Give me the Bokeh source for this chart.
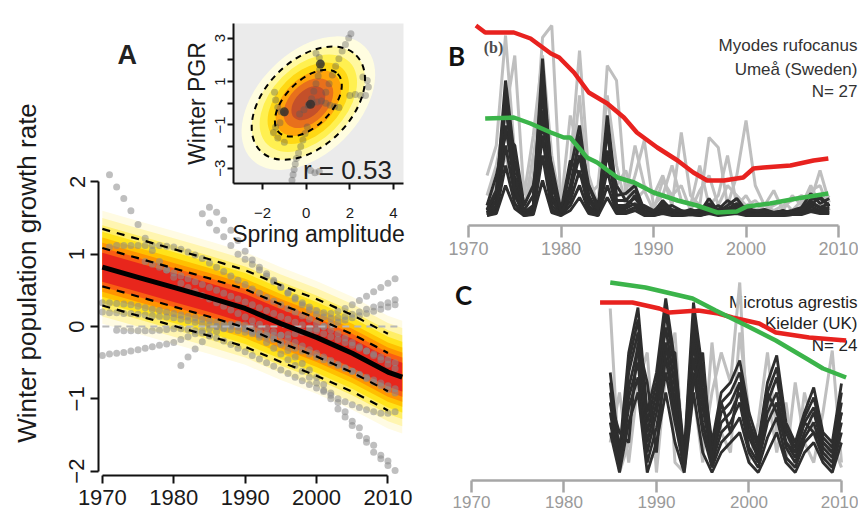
from bokeh.plotting import figure
from bokeh.models import Range1d, Label
from bokeh.layouts import column, row
from bokeh.embed import file_html
from bokeh.resources import INLINE

SANS = "Liberation Sans"

# ---------------- Panel A: main trend panel ----------------
A_X_TICKS = [1970, 1980, 1990, 2000, 2010]
A_Y_TICKS = [-2, -1, 0, 1, 2]
A_MEAN_YEARS = [1970, 1975, 1980, 1985, 1990, 1995, 2000, 2005, 2010, 2012]
A_MEAN = [0.82, 0.68, 0.54, 0.40, 0.25, 0.04, -0.15, -0.37, -0.63, -0.70]
A_DASH_OFFSETS = [-0.53, -0.265, 0.265, 0.53]
A_BAND_HALF = [0.78, 0.68, 0.58, 0.49, 0.41, 0.34, 0.27, 0.20]
A_BAND_COLORS = ["#fffbe3", "#fff5b0", "#ffee66", "#ffe31a", "#ffc000", "#ff9400", "#fa5e12", "#e8261c"]
A_ZERO_YEARS = [1970, 2012]
A_ZERO_VALUES = [0.0, 0.0]

A_DOTS_1_START = 1971
A_DOTS_1 = [2.10, 1.93, 1.77, 1.60, 1.41, 1.22, 1.05, 0.90, 0.78, 0.68,
            0.60, 0.54, 0.48, 0.43, 0.38, 0.33, 0.28, 0.23, 0.18, 0.13,
            0.08, 0.03, -0.02, -0.07, -0.12, -0.17, -0.22, -0.27, -0.32, -0.37,
            -0.42, -0.47, -0.52, -0.57, -0.62, -0.67, -0.72, -0.77, -0.82, -0.87, -0.92]
A_DOTS_2_START = 1971
A_DOTS_2 = [1.10, 1.12, 1.12, 1.12, 1.12, 1.12, 1.12, 1.12, 1.11, 1.10,
            1.07, 1.03, 0.99, 0.94, 0.88, 0.82, 0.76, 0.70, 0.64, 0.58,
            0.52, 0.46, 0.40, 0.35, 0.30, 0.25, 0.20, 0.15, 0.10, 0.05,
            0.00, -0.05, -0.10, -0.16, -0.22, -0.28, -0.34, -0.40, -0.46, -0.52, -0.58]
A_DOTS_3_START = 1985
A_DOTS_3 = [1.65, 1.58, 1.47, 1.33, 1.19, 1.04, 0.92, 0.82, 0.73, 0.64,
            0.55, 0.47, 0.40, 0.33, 0.27, 0.22, 0.19, 0.18, 0.21, 0.25,
            0.30, 0.36, 0.42, 0.48, 0.54, 0.60, 0.66]
A_DOTS_4_START = 1984
A_DOTS_4 = [1.56, 1.43, 1.33, 1.24, 1.12, 1.00, 0.93, 0.86, 0.78, 0.70,
            0.62, 0.54, 0.46, 0.38, 0.30, 0.23, 0.17, 0.13, 0.11, 0.12,
            0.14, 0.17, 0.20, 0.24, 0.27, 0.30, 0.33, 0.37]
A_DOTS_5_START = 1970
A_DOTS_5 = [-0.40, -0.38, -0.37, -0.36, -0.34, -0.32, -0.30, -0.28, -0.26, -0.24,
            -0.22, -0.18, -0.14, -0.10, -0.06, -0.03, 0.00, 0.02, 0.03, 0.03,
            -0.02, -0.08, -0.15, -0.22, -0.30, -0.38, -0.46, -0.54, -0.62, -0.70,
            -0.78, -0.88, -1.00, -1.14, -1.25, -1.37, -1.51, -1.60, -1.74, -1.83, -1.92, -1.99]
A_DOTS_6_START = 1981
A_DOTS_6 = [-0.54, -0.42, -0.31, -0.21, -0.13, -0.07, -0.03, 0.00, 0.02, 0.02,
            0.00, -0.04, -0.10, -0.17, -0.25, -0.33, -0.42, -0.51, -0.60, -0.70,
            -0.80, -0.92, -1.05, -1.18, -1.31, -1.40, -1.55, -1.64, -1.78, -1.86]
A_DOTS_7_START = 1970
A_DOTS_7 = [0.33, 0.33, 0.32, 0.31, 0.30, 0.28, 0.26, 0.24, 0.22, 0.20,
            0.18, 0.16, 0.14, 0.12, 0.10, 0.08, 0.06, 0.04, 0.02, 0.00,
            -0.03, -0.06, -0.10, -0.14, -0.18, -0.22, -0.26, -0.30, -0.34, -0.38,
            -0.42, -0.46, -0.50, -0.54, -0.58, -0.62, -0.66, -0.70, -0.74, -0.78, -0.82, -0.86]
A_DOTS_8_START = 1972
A_DOTS_8 = [-0.05, -0.06, -0.06, -0.06, -0.06, -0.06, -0.05, -0.04, -0.03, -0.03,
            -0.04, -0.06, -0.09, -0.12, -0.16, -0.20, -0.25, -0.30, -0.35, -0.40,
            -0.45, -0.50, -0.55, -0.60, -0.65, -0.70, -0.75, -0.80, -0.85, -0.90,
            -0.95, -1.00, -1.04, -1.08, -1.12, -1.15, -1.18, -1.20, -1.20, -1.18]
A_DOTS_9_START = 1970
A_DOTS_9 = [0.20, 0.19, 0.19, 0.18, 0.18, 0.17, 0.16, 0.15, 0.14, 0.13,
            0.12, 0.10, 0.08, 0.06, 0.04, 0.02, 0.00, -0.02, -0.04, -0.06,
            -0.08, -0.10, -0.11, -0.12, -0.12, -0.12, -0.11, -0.10, -0.08, -0.06,
            -0.03, 0.00, 0.03, 0.06, 0.09, 0.12, 0.15, 0.18, 0.21, 0.24, 0.27, 0.30]
A_DOTS_10_START = 1976
A_DOTS_10 = [0.90, 0.86, 0.82, 0.78, 0.74, 0.70, 0.66, 0.62, 0.58, 0.54,
             0.50, 0.46, 0.42, 0.38, 0.34, 0.30, 0.26, 0.22, 0.18, 0.14,
             0.10, 0.06, 0.02, -0.02, -0.06, -0.10, -0.14, -0.18, -0.22, -0.26,
             -0.30, -0.34, -0.38, -0.42, -0.46, -0.50]

# ---------------- Panel A inset ----------------
IN_X_TICKS = [-2, 0, 2, 4]
IN_Y_TICKS = [-3, -2, -1, 0, 1, 2, 3]
IN_CENTER_X = [0.1]
IN_CENTER_Y = [0.0]
IN_OUTER_W, IN_OUTER_H = 6.2, 3.95
IN_INNER_W, IN_INNER_H = 3.8, 2.1
IN_ANGLE = 0.785
IN_LEVELS = [1.18, 1.0, 0.86, 0.72, 0.58, 0.44, 0.30]
IN_COLORS = ["#fffde0", "#fff8a0", "#fff050", "#ffd814", "#ffa40a", "#e8701c", "#c4502a"]
IN_T1_X = [-0.65, -0.6, -0.55, -0.5, -0.45, -0.35, -0.25, -0.15, -0.05, 0.05]
IN_T1_Y = [-3.55, -3.3, -3.05, -2.8, -2.55, -2.3, -2.0, -1.7, -1.4, -1.1]
IN_T2_X = [0.9, 1.05, 1.2, 1.35, 1.5, 1.65, 1.8, 1.95, 2.05]
IN_T2_Y = [0.5, 0.9, 1.3, 1.7, 2.05, 2.4, 2.7, 3.0, 3.2]
IN_T3_X = [2.0, 2.25, 2.5, 2.72, 2.85, 2.8, 2.6]
IN_T3_Y = [0.35, 0.4, 0.35, 0.35, 0.75, 1.05, 1.2]
IN_T4_X = [-1.45, -1.4, -1.3, -1.15, -1.0, -1.2, -1.4, -1.5, -1.3, -1.0]
IN_T4_Y = [0.5, 0.15, -0.2, -0.4, -0.45, -0.9, -1.1, -1.35, -1.6, -1.8]
IN_T5_X = [0.1, 0.25, 0.35, 0.45, 0.55, 0.62, 0.68, 0.6, 0.45]
IN_T5_Y = [-0.1, 0.2, 0.55, 0.9, 1.25, 1.55, 1.85, 2.1, 2.3]
IN_T6_X = [-0.3, -0.1, 0.1, 0.3, 0.5, 0.7, 0.9, 1.1, 1.3, 1.5]
IN_T6_Y = [-0.5, -0.3, -0.1, 0.0, 0.05, 0.1, 0.0, -0.1, -0.15, -0.2]
IN_T7_X = [0.2, 0.4, 0.6]
IN_T7_Y = [-3.1, -3.2, -3.15]
IN_DARK_X = [0.2, -1.0, 0.65]
IN_DARK_Y = [-0.05, -0.4, 1.8]

# ---------------- Panel B: Myodes rufocanus, Umea ----------------
B_X_TICKS = [1970, 1980, 1990, 2000, 2010]
B_START = 1972
B_DARK_1 = [0.5, 2.0, 13.5, 5.5, 0.3, 1.0, 15.7, 3.0, 0.2, 4.5, 9.0, 2.0, 0.3, 10.0, 2.0, 2.2, 3.0, 0.5, 0.3, 1.5,
            0.5, 0.3, 0.6, 0.3, 1.7, 0.4, 1.0, 1.7, 0.5, 0.3, 0.3, 0.2, 0.3, 0.5, 0.8, 2.2, 1.2, 1.7]
B_DARK_2 = [0.3, 1.5, 11.0, 4.0, 0.2, 0.8, 12.5, 2.0, 0.3, 3.0, 7.5, 1.5, 0.2, 8.5, 1.5, 1.5, 2.5, 0.4, 0.2, 1.0,
            0.3, 0.2, 0.4, 0.2, 1.2, 0.3, 0.7, 1.2, 0.4, 0.2, 0.2, 0.1, 0.2, 0.4, 0.6, 1.6, 1.7, 1.0]
B_DARK_3 = [0.2, 1.0, 9.0, 3.0, 0.1, 0.5, 10.5, 1.5, 0.2, 2.5, 6.0, 1.0, 0.1, 6.5, 1.0, 1.0, 1.8, 0.3, 0.1, 0.7,
            0.2, 0.1, 0.3, 0.1, 0.8, 0.2, 0.5, 0.9, 0.3, 0.1, 0.1, 0.1, 0.1, 0.3, 0.4, 1.2, 0.8, 0.7]
B_DARK_4 = [0.1, 0.7, 7.0, 2.0, 0.1, 0.4, 8.0, 1.0, 0.1, 1.5, 4.5, 0.7, 0.1, 4.5, 0.7, 0.7, 1.2, 0.2, 0.1, 0.5,
            0.1, 0.1, 0.2, 0.1, 0.5, 0.1, 0.3, 0.6, 0.2, 0.1, 0.1, 0.0, 0.1, 0.2, 0.3, 0.9, 0.5, 0.5]
B_DARK_5 = [0.0, 0.4, 5.0, 1.2, 0.0, 0.2, 6.0, 0.6, 0.0, 1.0, 3.0, 0.4, 0.0, 3.0, 0.4, 0.4, 0.8, 0.1, 0.0, 0.3,
            0.1, 0.0, 0.1, 0.0, 0.3, 0.1, 0.2, 0.4, 0.1, 0.0, 0.0, 0.0, 0.0, 0.1, 0.2, 0.6, 0.3, 0.3]
B_DARK_6 = [0.0, 0.2, 3.0, 0.7, 0.0, 0.1, 3.5, 0.3, 0.0, 0.5, 1.8, 0.2, 0.0, 1.8, 0.2, 0.2, 0.5, 0.0, 0.0, 0.2,
            0.0, 0.0, 0.1, 0.0, 0.2, 0.0, 0.1, 0.2, 0.0, 0.0, 0.0, 0.0, 0.0, 0.1, 0.1, 0.4, 0.2, 0.2]
B_DARK_7 = [1.0, 4.0, 8.0, 7.0, 1.0, 3.0, 9.0, 5.0, 0.5, 5.5, 4.0, 3.0, 1.0, 6.0, 3.0, 1.5, 1.0, 1.0, 0.5, 0.8,
            1.0, 0.5, 0.3, 0.6, 0.5, 1.0, 0.4, 0.8, 0.9, 0.4, 0.6, 0.3, 0.5, 0.2, 0.7, 1.0, 1.9, 0.9]
B_DARK_8 = [0.6, 2.5, 12.0, 2.5, 0.5, 2.0, 14.0, 4.0, 0.3, 2.0, 8.0, 3.0, 0.5, 9.0, 1.0, 0.8, 2.0, 0.8, 0.4, 1.2,
            0.6, 0.4, 0.4, 0.5, 1.0, 0.6, 1.5, 0.9, 0.6, 0.5, 0.4, 0.3, 0.4, 0.3, 0.5, 1.4, 0.8, 1.2]
B_GREY_1 = [4.0, 7.0, 18.0, 6.0, 1.0, 4.0, 17.8, 19.0, 1.0, 5.0, 16.5, 4.0, 1.0, 15.0, 13.5, 2.0, 7.0, 3.0, 2.0, 4.0,
            1.0, 8.3, 2.0, 1.0, 7.8, 6.8, 1.0, 4.0, 9.5, 3.0, 1.0, 0.5, 1.0, 1.5, 2.0, 1.5, 4.5, 1.3]
B_GREY_2 = [2.0, 5.0, 10.0, 16.0, 2.0, 8.0, 16.0, 6.0, 1.0, 10.0, 6.0, 2.0, 3.0, 12.0, 5.0, 1.0, 4.0, 7.5, 1.0, 2.0,
            5.0, 1.5, 1.0, 5.0, 1.0, 2.0, 6.0, 1.0, 2.0, 0.5, 1.0, 2.5, 0.5, 2.0, 1.0, 3.0, 1.0, 2.0]
B_GREY_3 = [1.0, 3.0, 6.0, 2.0, 0.5, 6.0, 11.0, 3.0, 0.5, 3.0, 12.0, 1.5, 0.5, 8.0, 3.0, 4.5, 1.5, 2.5, 0.5, 3.5,
            2.0, 3.0, 0.5, 2.5, 4.0, 1.0, 3.0, 2.0, 1.0, 1.5, 0.5, 1.0, 1.5, 0.5, 1.5, 2.5, 3.0, 0.5]
B_RED_YEARS = [1970.8, 1971.8, 1974.9, 1976.7, 1978.9, 1979.8, 1981.4, 1983.0, 1985.0, 1986.8, 1988.2,
               1990.4, 1992.6, 1994.3, 1995.8, 1997.6, 1999.7, 2000.8, 2001.9, 2004.8, 2007.3, 2008.9]
B_RED = [19.0, 18.3, 18.3, 17.7, 16.2, 15.8, 14.3, 12.3, 11.2, 9.8, 8.3,
         6.8, 5.5, 4.3, 3.5, 3.5, 3.8, 4.7, 4.8, 5.0, 5.5, 5.7]
B_GREEN_YEARS = [1971.8, 1974.9, 1976.7, 1978.9, 1980.3, 1981.0, 1982.8, 1983.9, 1986.1, 1987.9,
                 1990.0, 1992.6, 1994.7, 1996.9, 1999.0, 2000.1, 2002.6, 2005.5, 2008.9]
B_GREEN = [9.7, 9.8, 9.2, 8.3, 7.8, 7.8, 5.8, 5.3, 3.8, 3.3, 2.3, 1.5, 1.0, 0.3, 0.4, 0.9, 1.2, 1.7, 2.2]

# ---------------- Panel C: Microtus agrestis, Kielder ----------------
C_X_TICKS = [1970, 1980, 1990, 2000, 2010]
C_START = 1985
C_DARK_1 = [10, 2, 12, 16.5, 6, 10, 17.4, 11, 2, 17, 10, 3, 8, 9, 11.2, 6, 3, 9, 11.7, 5, 3, 6, 8.5, 4, 3, 8.9]
C_DARK_2 = [9, 1.5, 11, 15.3, 5, 9, 16, 10, 1.5, 15.7, 8.5, 2.5, 7, 8, 10, 5, 2.5, 8, 10.5, 4.5, 2.5, 5.5, 7.5, 3.5, 2.5, 8]
C_DARK_3 = [8, 1, 10, 14, 4, 8, 14.5, 8.5, 1, 14.3, 7.5, 2, 6, 7, 9, 4, 2, 7, 9.5, 4, 2, 5, 6.5, 3, 2, 7]
C_DARK_4 = [7, 0.8, 8.5, 12.5, 3, 7, 13, 7, 1, 13, 6.5, 1.5, 5, 6, 8, 3.5, 1.5, 6, 8, 3, 1.5, 4, 6, 2.5, 1.5, 6]
C_DARK_5 = [6, 0.5, 7.5, 11, 2, 6, 11.5, 6, 0.5, 11.5, 5, 1, 4, 5, 7, 2.5, 1, 5, 7, 2.5, 1, 3.5, 5, 2, 1, 5]
C_DARK_6 = [5, 0.3, 6.5, 9.5, 1, 4.5, 10, 5, 0.3, 10, 4, 0.5, 3, 4, 5.5, 2, 0.5, 3.5, 5.5, 1.5, 0.5, 3, 4, 1.5, 0.5, 4]
C_DARK_7 = [4, 0, 5, 8, 0, 3, 8, 3, 0, 8, 2, 0, 2, 3, 4, 1, 0, 2, 4, 1, 0, 2, 3, 1, 0, 3]
C_DARK_8 = [7, 4, 3, 13, 9, 2, 12, 12, 0.5, 9, 12, 1, 7, 4, 9, 5, 1, 8, 6, 3, 2, 5, 4, 3, 2, 6]
C_GREY_1 = [16.4, 0.0, 3.0, 15.0, 1.0, 2.0, 16.0, 1.0, 0.0, 14.0, 2.0, 8.0, 12.0, 9.0, 19.0, 1.0, 5.0, 12.0, 4.0, 1.0,
            9.0, 3.0, 1.0, 6.0, 12.2, 1.0]
C_GREY_2 = [3.0, 8.0, 1.0, 9.0, 12.0, 0.0, 10.0, 14.0, 0.0, 8.0, 1.0, 13.0, 4.0, 2.0, 14.0, 6.0, 1.0, 8.0, 2.0, 7.0,
            0.5, 8.0, 4.0, 1.0, 3.0, 0.5]
C_RED_YEARS = [1983.9, 1987.4, 1990.3, 1991.4, 1994.5, 1996.7, 1998.2, 2001.1, 2002.9, 2006.5, 2010.5]
C_RED = [17.0, 17.0, 16.4, 16.0, 16.2, 15.9, 15.5, 14.9, 14.0, 13.5, 13.2]
C_GREEN_YEARS = [1985.0, 1988.8, 1993.9, 1996.4, 1999.7, 2002.9, 2006.2, 2008.0, 2010.5]
C_GREEN = [19.0, 18.5, 17.4, 16.2, 14.7, 13.2, 11.4, 10.4, 9.5]

RED = "#e8221f"
GREEN = "#3bb44a"
DARK = "#2e2e2e"
LIGHT = "#bfbfbf"


def years_from(start, vals):
    return list(range(start, start + len(vals)))


def style_axis(ax, color, width, tick_out, size, label_color):
    ax.axis_line_color = color
    ax.axis_line_width = width
    ax.major_tick_line_color = color
    ax.major_tick_line_width = width
    ax.major_tick_out = tick_out
    ax.major_tick_in = 0
    ax.minor_tick_line_color = None
    ax.major_label_text_font = SANS
    ax.major_label_text_font_size = size
    ax.major_label_text_color = label_color


def clean(p):
    p.background_fill_alpha = 0
    p.border_fill_alpha = 0
    p.outline_line_color = None
    p.grid.visible = False


# ======== Panel A ========
pA = figure(width=430, height=507, x_range=Range1d(1969.46, 2014.0), y_range=Range1d(-2.06, 3.54),
            output_backend="svg", toolbar_location=None, title="A",
            min_border_left=88, min_border_right=10, min_border_top=62, min_border_bottom=40)
clean(pA)
pA.title.text_font = SANS
pA.title.text_font_style = "bold"
pA.title.text_font_size = "27px"
pA.title.text_color = "#222222"
pA.title.align = "left"
pA.title.offset = 19
pA.title.standoff = 2

for h, c in zip(A_BAND_HALF, A_BAND_COLORS):
    pA.varea(x=A_MEAN_YEARS, y1=[m - h for m in A_MEAN], y2=[m + h for m in A_MEAN], fill_color=c)

for start, vals in [(A_DOTS_1_START, A_DOTS_1), (A_DOTS_2_START, A_DOTS_2), (A_DOTS_3_START, A_DOTS_3),
                    (A_DOTS_4_START, A_DOTS_4), (A_DOTS_5_START, A_DOTS_5), (A_DOTS_6_START, A_DOTS_6),
                    (A_DOTS_7_START, A_DOTS_7), (A_DOTS_8_START, A_DOTS_8), (A_DOTS_9_START, A_DOTS_9),
                    (A_DOTS_10_START, A_DOTS_10)]:
    pA.scatter(years_from(start, vals), vals, size=7, color="#8a8a8a", alpha=0.55, line_color=None)

pA.line(A_ZERO_YEARS, A_ZERO_VALUES, line_color="#b8b8b8", line_width=2, line_dash="7 5")
for off in A_DASH_OFFSETS:
    pA.line(A_MEAN_YEARS[:-1], [m + off for m in A_MEAN[:-1]], line_color="black",
            line_width=2.2, line_dash="8 7")
pA.line(A_MEAN_YEARS, A_MEAN, line_color="black", line_width=5)

style_axis(pA.xaxis[0], "#111111", 2, 8, "22px", "#1a1a1a")
style_axis(pA.yaxis[0], "#111111", 2, 8, "22px", "#1a1a1a")
pA.xaxis.ticker = A_X_TICKS
pA.yaxis.ticker = A_Y_TICKS
pA.xaxis.bounds = (1970, 2010)
pA.yaxis.bounds = (-2, 2)
pA.xaxis.major_label_standoff = 6
pA.yaxis.major_label_standoff = 6
pA.yaxis.major_label_orientation = "vertical"
pA.yaxis.major_label_overrides = {-2: "\u22122", -1: "\u22121", 0: "0", 1: "1", 2: "2"}
pA.yaxis.axis_label = "Winter population growth rate"
pA.yaxis.axis_label_text_font = SANS
pA.yaxis.axis_label_text_font_size = "26px"
pA.yaxis.axis_label_text_font_style = "normal"
pA.yaxis.axis_label_text_color = "#1a1a1a"
pA.yaxis.axis_label_standoff = 25

# ======== Inset ========
pI = figure(width=282, height=248, x_range=Range1d(-3.33, 4.46), y_range=Range1d(-3.70, 3.67),
            output_backend="svg", toolbar_location=None,
            min_border_left=90, min_border_right=22, min_border_top=8, min_border_bottom=80)
pI.background_fill_color = "#ebebeb"
pI.border_fill_alpha = 0
pI.outline_line_color = None
pI.grid.visible = False

for s, c in zip(IN_LEVELS, IN_COLORS):
    pI.ellipse(x=IN_CENTER_X, y=IN_CENTER_Y, width=IN_OUTER_W * s, height=IN_OUTER_H * s,
               angle=IN_ANGLE, fill_color=c, line_color=None)
for tx, ty in [(IN_T1_X, IN_T1_Y), (IN_T2_X, IN_T2_Y), (IN_T3_X, IN_T3_Y), (IN_T4_X, IN_T4_Y),
               (IN_T5_X, IN_T5_Y), (IN_T6_X, IN_T6_Y), (IN_T7_X, IN_T7_Y)]:
    pI.scatter(tx, ty, size=7, color="#5a5a5a", alpha=0.38, line_color=None)
pI.scatter(IN_DARK_X, IN_DARK_Y, size=9, color="#2a2a2a", alpha=0.75, line_color=None)
pI.ellipse(x=IN_CENTER_X, y=IN_CENTER_Y, width=IN_OUTER_W, height=IN_OUTER_H, angle=IN_ANGLE,
           fill_color=None, line_color="black", line_width=2, line_dash="6 5")
pI.ellipse(x=IN_CENTER_X, y=IN_CENTER_Y, width=IN_INNER_W, height=IN_INNER_H, angle=IN_ANGLE,
           fill_color=None, line_color="black", line_width=2, line_dash="6 5")

style_axis(pI.xaxis[0], "#111111", 2, 6, "15px", "#1a1a1a")
style_axis(pI.yaxis[0], "#111111", 2, 6, "15px", "#1a1a1a")
pI.xaxis.ticker = IN_X_TICKS
pI.yaxis.ticker = IN_Y_TICKS
pI.xaxis.major_label_overrides = {-2: "\u22122", 0: "0", 2: "2", 4: "4"}
pI.yaxis.major_label_overrides = {-3: "\u22123", -2: "", -1: "\u22121", 0: "", 1: "1", 2: "", 3: "3"}
pI.yaxis.major_label_orientation = "vertical"
pI.xaxis.major_label_standoff = 18
pI.yaxis.major_label_standoff = 2
for ax in (pI.xaxis[0], pI.yaxis[0]):
    ax.axis_label_text_font = SANS
    ax.axis_label_text_font_size = "23px"
    ax.axis_label_text_font_style = "normal"
    ax.axis_label_text_color = "#1a1a1a"
pI.xaxis.axis_label = "Spring amplitude"
pI.yaxis.axis_label = "Winter PGR"
pI.xaxis.axis_label_standoff = 0
pI.yaxis.axis_label_standoff = 3
pI.add_layout(Label(x=1.89, y=-3.06, text="r = 0.53", text_font=SANS, text_font_size="26px",
                    text_color="#222222", text_align="center", text_baseline="middle"))
pI.margin = (-500, 0, 0, 135)

# ======== Panel B ========
pB = figure(width=420, height=260, x_range=Range1d(1966.97, 2012.16), y_range=Range1d(-1.0, 20.0),
            output_backend="svg", toolbar_location=None, y_axis_location=None,
            min_border_left=2, min_border_right=0, min_border_top=7, min_border_bottom=43)
clean(pB)
for vals in [B_GREY_1, B_GREY_2, B_GREY_3]:
    pB.line(years_from(B_START, vals), vals, line_color=LIGHT, line_width=3)
for vals in [B_DARK_1, B_DARK_2, B_DARK_3, B_DARK_4, B_DARK_5, B_DARK_6, B_DARK_7, B_DARK_8]:
    pB.line(years_from(B_START, vals), vals, line_color=DARK, line_width=3)
pB.line(B_RED_YEARS, B_RED, line_color=RED, line_width=4.5)
pB.line(B_GREEN_YEARS, B_GREEN, line_color=GREEN, line_width=4.5)
style_axis(pB.xaxis[0], "#a6a6a6", 2.5, 12, "18px", "#9a9a9a")
pB.xaxis.ticker = B_X_TICKS
pB.xaxis.bounds = (1970, 2010)
pB.xaxis.major_label_standoff = 4
for txt, yy in [("Myodes rufocanus", 17.0), ("Ume\u00e5 (Sweden)", 14.6), ("N= 27", 12.4)]:
    pB.add_layout(Label(x=2012.05, y=yy, text=txt, text_font=SANS, text_font_size="17px",
                        text_color="#333333", text_align="right", text_baseline="middle"))
pB.add_layout(Label(x=1968.7, y=16.0, text="B", text_font="Lato", text_font_style="bold",
                    text_font_size="26px", text_color="#111111", text_align="center",
                    text_baseline="middle"))
pB.add_layout(Label(x=1972.7, y=16.8, text="(b)", text_font="Liberation Serif", text_font_style="bold",
                    text_font_size="16px", text_color="#4d4d4d", text_align="center",
                    text_baseline="middle"))

# ======== Panel C ========
pC = figure(width=420, height=247, x_range=Range1d(1966.65, 2011.84), y_range=Range1d(-0.8, 19.7),
            output_backend="svg", toolbar_location=None, y_axis_location=None,
            min_border_left=2, min_border_right=0, min_border_top=7, min_border_bottom=35)
clean(pC)
for txt, yy in [("Microtus agrestis", 17.0), ("Kielder (UK)", 14.9), ("N= 24", 12.7)]:
    pC.add_layout(Label(x=2011.73, y=yy, text=txt, text_font=SANS, text_font_size="17px",
                        text_color="#222222", text_align="right", text_baseline="middle",
                        level="underlay"))
for vals in [C_GREY_1, C_GREY_2]:
    pC.line(years_from(C_START, vals), vals, line_color=LIGHT, line_width=3)
for vals in [C_DARK_1, C_DARK_2, C_DARK_3, C_DARK_4, C_DARK_5, C_DARK_6, C_DARK_7, C_DARK_8]:
    pC.line(years_from(C_START, vals), vals, line_color=DARK, line_width=2.8)
pC.line(C_RED_YEARS, C_RED, line_color=RED, line_width=4.5)
pC.line(C_GREEN_YEARS, C_GREEN, line_color=GREEN, line_width=4.5)
style_axis(pC.xaxis[0], "#a6a6a6", 2.5, 12, "17px", "#9a9a9a")
pC.xaxis.ticker = C_X_TICKS
pC.xaxis.bounds = (1970, 2010)
pC.xaxis.major_label_standoff = 3
pC.add_layout(Label(x=1969.14, y=17.8, text="C", text_font="Lato", text_font_style="bold",
                    text_font_size="26px", text_color="#111111", text_align="center",
                    text_baseline="middle"))

layout = row(column(pA, pI), column(pB, pC))
layout.margin = (8, 0, 0, 8)
open("out.html", "w").write(file_html(layout, INLINE))
